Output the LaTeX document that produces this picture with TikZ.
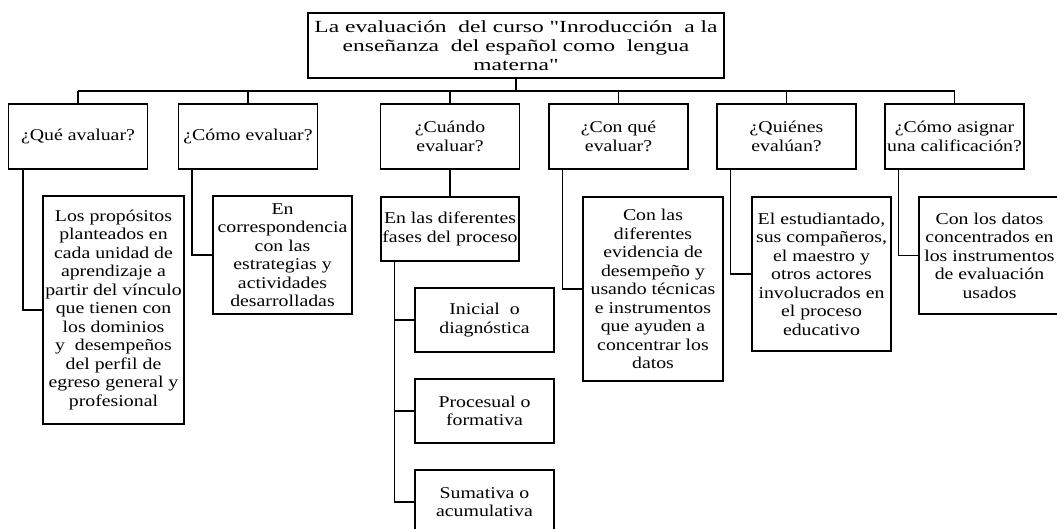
\documentclass[tikz,border=0pt]{standalone}
\usepackage{fontspec}
\setmainfont{Liberation Serif}[Ligatures=TeXOff,FakeStretch=1.2]
\newfontfamily\rootfont{Liberation Serif}[Ligatures=TeXOff,FakeStretch=1.38]
\begin{document}
\begin{tikzpicture}[x=1pt,y=-1pt,
  box/.style={draw, line width=1.2pt, rectangle, inner sep=0pt, align=center,
    font=\fontsize{16.5}{18.5}\selectfont},
  conn/.style={line width=1.2pt}]
\useasboundingbox (0,0) rectangle (1057,529);
\fill[white] (0,0) rectangle (1057,529);
% root
\node[box, minimum width=416pt, minimum height=65pt, font=\rootfont\fontsize{17}{19}\selectfont] (root) at (516,45.5)
  {La evaluación\ \ del curso "Inroducción\ \ a la\\enseñanza\ \ del español como\ \ lengua\\materna"};
% level 1
\tikzset{qbox/.style={box, minimum width=139pt, minimum height=65pt}}
\node[qbox] (q1) at (78,136.5) {¿Qué avaluar?};
\node[qbox] (q2) at (248,136.5) {¿Cómo evaluar?};
\node[qbox] (q3) at (450,136.5) {¿Cuándo\\evaluar?};
\node[qbox] (q4) at (618.5,136.5) {¿Con qué\\evaluar?};
\node[qbox] (q5) at (786.5,136.5) {¿Quiénes\\evalúan?};
\node[qbox] (q6) at (954.5,136.5) {¿Cómo asignar\\una calificación?};
% level 2
\node[box, minimum width=141pt, minimum height=228pt] (a1) at (113.5,310)
  {Los propósitos\\planteados en\\cada unidad de\\aprendizaje a\\partir del vínculo\\que tienen con\\los dominios\\y\ \ desempeños\\del perfil de\\egreso general y\\profesional};
\node[box, minimum width=139pt, minimum height=118pt] (a2) at (282.5,255)
  {En\\correspondencia\\con las\\estrategias y\\actividades\\desarrolladas};
\node[box, minimum width=138pt, minimum height=64pt] (a3) at (450,229)
  {En las diferentes\\fases del proceso};
\node[box, minimum width=140pt, minimum height=184pt] (a4) at (653,289)
  {Con las\\diferentes\\evidencia de\\desempeño y\\usando técnicas\\e instrumentos\\que ayuden a\\concentrar los\\datos};
\node[box, minimum width=139pt, minimum height=154pt] (a5) at (821.5,274)
  {El estudiantado,\\sus compañeros,\\el maestro y\\otros actores\\involucrados en\\el proceso\\educativo};
\node[box, minimum width=141pt, minimum height=117pt] (a6) at (989.5,255.5)
  {Con los datos\\concentrados en\\los instrumentos\\de evaluación\\usados};
% level 3
\tikzset{pbox/.style={box, minimum width=139pt, minimum height=64pt}}
\node[pbox] (b1) at (484.5,320) {Inicial\ \ o\\diagnóstica};
\node[pbox] (b2) at (484.5,411) {Procesual o\\formativa};
\node[pbox] (b3) at (484.5,502) {Sumativa o\\acumulativa};
% connectors
\coordinate (busL) at (78,91);
\coordinate (busR) at (954.5,91);
\draw[conn] (busL) -- (busR);
\draw[conn] (root.south) -- (root.south |- busL);
\foreach \q in {q1,q2,q3,q4,q5,q6}
  \draw[conn] (\q.north) -- (\q.north |- busL);
\draw[conn] ([xshift=15pt]q1.south west) |- (a1.west);
\draw[conn] ([xshift=14pt]q2.south west) |- (a2.west);
\draw[conn] (q3.south) -- (a3.north);
\draw[conn] ([xshift=14pt]q4.south west) |- (a4.west);
\draw[conn] ([xshift=14pt]q5.south west) |- (a5.west);
\draw[conn] ([xshift=14pt]q6.south west) |- (a6.west);
\draw[conn] ([xshift=14pt]a3.south west) |- (b1.west);
\draw[conn] ([xshift=14pt]a3.south west) |- (b2.west);
\draw[conn] ([xshift=14pt]a3.south west) |- (b3.west);
\end{tikzpicture}
\end{document}
